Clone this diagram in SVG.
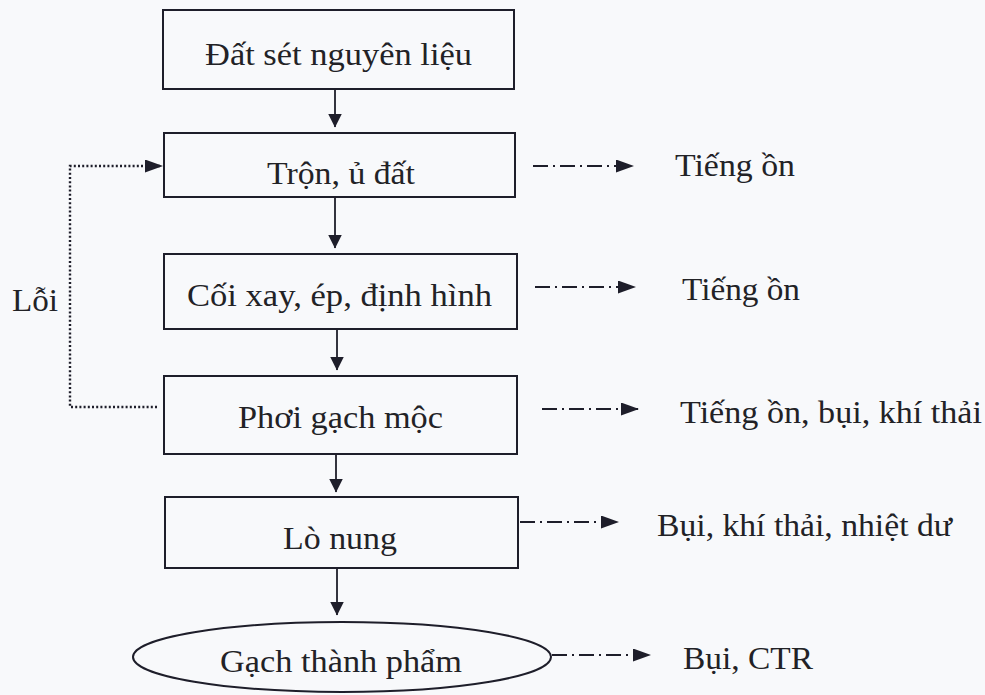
<svg xmlns="http://www.w3.org/2000/svg" width="985" height="695" viewBox="0 0 985 695">
<defs>
<style>
.box{fill:none;stroke:#1e1e2a;stroke-width:2}
.t{font-family:"Liberation Serif","Times New Roman",serif;font-size:31px;fill:#222226}
.flow{stroke:#1e1e2a;stroke-width:1.8;fill:none}
.emis{stroke:#1e1e2a;stroke-width:1.8;fill:none;stroke-dasharray:15 5 2 5}
.loop{stroke:#1e1e2a;stroke-width:2.4;fill:none;stroke-dasharray:2 2.2}
</style>
<marker id="ah" viewBox="0 0 14 16" refX="13.5" refY="8" markerWidth="14" markerHeight="16" markerUnits="userSpaceOnUse" orient="auto">
<path d="M0,1 L14,8 L0,15 Z" fill="#1e1e2a"/>
</marker>
<marker id="ahs" viewBox="0 0 18 13" refX="17" refY="6.5" markerWidth="18" markerHeight="13" markerUnits="userSpaceOnUse" orient="auto">
<path d="M0,0 L18,6.5 L0,13 Z" fill="#1e1e2a"/>
</marker>
</defs>
<rect x="0" y="0" width="985" height="695" fill="#f8f9fb"/>
<g id="n1"><rect class="box" x="163" y="10" width="351" height="79"/><text class="t" x="205" y="65" textLength="267" lengthAdjust="spacingAndGlyphs">Đất sét nguyên liệu</text></g>
<g id="n2"><rect class="box" x="164" y="133" width="351" height="64"/><text class="t" x="267" y="184" textLength="148" lengthAdjust="spacingAndGlyphs">Trộn, ủ đất</text></g>
<g id="n3"><rect class="box" x="164" y="254" width="353" height="75"/><text class="t" x="187" y="306" textLength="305" lengthAdjust="spacingAndGlyphs">Cối xay, ép, định hình</text></g>
<g id="n4"><rect class="box" x="164" y="376" width="353" height="78"/><text class="t" x="238" y="428" textLength="205" lengthAdjust="spacingAndGlyphs">Phơi gạch mộc</text></g>
<g id="n5"><rect class="box" x="165" y="497" width="353" height="71"/><text class="t" x="283" y="549" textLength="114" lengthAdjust="spacingAndGlyphs">Lò nung</text></g>
<g id="n6"><ellipse class="box" cx="342" cy="657" rx="209" ry="35"/><text class="t" x="220" y="672" textLength="242" lengthAdjust="spacingAndGlyphs">Gạch thành phẩm</text></g>
<g id="e2"><text class="t" x="675" y="176" textLength="120" lengthAdjust="spacingAndGlyphs">Tiếng ồn</text></g>
<g id="e3"><text class="t" x="682" y="300" textLength="118" lengthAdjust="spacingAndGlyphs">Tiếng ồn</text></g>
<g id="e4"><text class="t" x="680" y="423" textLength="302" lengthAdjust="spacingAndGlyphs">Tiếng ồn, bụi, khí thải</text></g>
<g id="e5"><text class="t" x="657" y="536" textLength="295" lengthAdjust="spacingAndGlyphs">Bụi, khí thải, nhiệt dư</text></g>
<g id="e6"><text class="t" x="683" y="669" textLength="130" lengthAdjust="spacingAndGlyphs">Bụi, CTR</text></g>
<g id="lbl"><text class="t" x="12" y="311" textLength="46" lengthAdjust="spacingAndGlyphs">Lỗi</text></g>
<g id="connectors">
<line class="flow" x1="335" y1="89" x2="335" y2="127" marker-end="url(#ah)"/>
<line class="flow" x1="335" y1="197" x2="335" y2="248" marker-end="url(#ah)"/>
<line class="flow" x1="337" y1="329" x2="337" y2="370" marker-end="url(#ah)"/>
<line class="flow" x1="336" y1="454" x2="336" y2="492" marker-end="url(#ah)"/>
<line class="flow" x1="337" y1="568" x2="337" y2="615" marker-end="url(#ah)"/>
<line class="emis" x1="533" y1="166" x2="633" y2="166" marker-end="url(#ahs)"/>
<line class="emis" x1="535" y1="287" x2="635" y2="287" marker-end="url(#ahs)"/>
<line class="emis" x1="542" y1="409" x2="638" y2="409" marker-end="url(#ahs)"/>
<line class="emis" x1="520" y1="522" x2="618" y2="522" marker-end="url(#ahs)"/>
<line class="emis" x1="552" y1="655" x2="650" y2="655" marker-end="url(#ahs)"/>
<path class="loop" d="M157,407 H70 V166 H162" marker-end="url(#ahs)"/>
</g>
</svg>
